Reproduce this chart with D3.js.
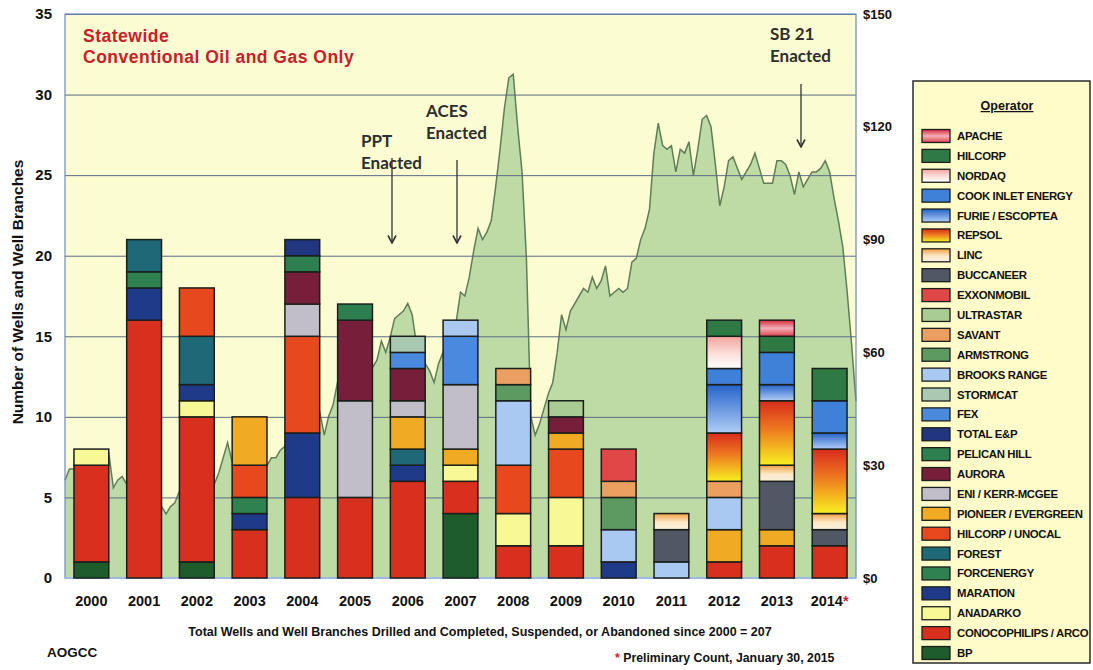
<!DOCTYPE html>
<html>
<head>
<meta charset="utf-8">
<script src="https://cdn.jsdelivr.net/npm/d3@7"></script>
<style>
  body { margin: 0; background: #fff; }
  svg text { font-family: "Liberation Sans", Arial, sans-serif; font-weight: bold; }
</style>
</head>
<body>
<svg id="chart" width="1093" height="670"></svg>
<script>
// years on the x axis
const years = ["2000", "2001", "2002", "2003", "2004", "2005", "2006", "2007", "2008", "2009", "2010", "2011", "2012", "2013", "2014"];

// operators, in legend order (top to bottom)
const operators = ["APACHE", "HILCORP", "NORDAQ", "COOK INLET ENERGY", "FURIE / ESCOPTEA", "REPSOL", "LINC", "BUCCANEER", "EXXONMOBIL", "ULTRASTAR", "SAVANT", "ARMSTRONG", "BROOKS RANGE", "STORMCAT", "FEX", "TOTAL E&P", "PELICAN HILL", "AURORA", "ENI / KERR-MCGEE", "PIONEER / EVERGREEN", "HILCORP / UNOCAL", "FOREST", "FORCENERGY", "MARATION", "ANADARKO", "CONOCOPHILIPS / ARCO", "BP"];

// wells and well branches per year and operator
const wellsByYear = [
  { year: "2000", "BP": 1, "CONOCOPHILIPS / ARCO": 6, "ANADARKO": 1 },
  { year: "2001", "CONOCOPHILIPS / ARCO": 16, "MARATION": 2, "FORCENERGY": 1, "FOREST": 2 },
  { year: "2002", "BP": 1, "CONOCOPHILIPS / ARCO": 9, "ANADARKO": 1, "MARATION": 1, "FOREST": 3, "HILCORP / UNOCAL": 3 },
  { year: "2003", "CONOCOPHILIPS / ARCO": 3, "MARATION": 1, "FORCENERGY": 1, "HILCORP / UNOCAL": 2, "PIONEER / EVERGREEN": 3 },
  { year: "2004", "CONOCOPHILIPS / ARCO": 5, "MARATION": 4, "HILCORP / UNOCAL": 6, "ENI / KERR-MCGEE": 2, "AURORA": 2, "PELICAN HILL": 1, "TOTAL E&P": 1 },
  { year: "2005", "CONOCOPHILIPS / ARCO": 5, "ENI / KERR-MCGEE": 6, "AURORA": 5, "PELICAN HILL": 1 },
  { year: "2006", "CONOCOPHILIPS / ARCO": 6, "MARATION": 1, "FOREST": 1, "PIONEER / EVERGREEN": 2, "ENI / KERR-MCGEE": 1, "AURORA": 2, "FEX": 1, "STORMCAT": 1 },
  { year: "2007", "BP": 4, "CONOCOPHILIPS / ARCO": 2, "ANADARKO": 1, "PIONEER / EVERGREEN": 1, "ENI / KERR-MCGEE": 4, "FEX": 3, "BROOKS RANGE": 1 },
  { year: "2008", "CONOCOPHILIPS / ARCO": 2, "ANADARKO": 2, "HILCORP / UNOCAL": 3, "BROOKS RANGE": 4, "ARMSTRONG": 1, "SAVANT": 1 },
  { year: "2009", "CONOCOPHILIPS / ARCO": 2, "ANADARKO": 3, "HILCORP / UNOCAL": 3, "PIONEER / EVERGREEN": 1, "AURORA": 1, "ULTRASTAR": 1 },
  { year: "2010", "MARATION": 1, "BROOKS RANGE": 2, "ARMSTRONG": 2, "SAVANT": 1, "EXXONMOBIL": 2 },
  { year: "2011", "BROOKS RANGE": 1, "BUCCANEER": 2, "LINC": 1 },
  { year: "2012", "CONOCOPHILIPS / ARCO": 1, "PIONEER / EVERGREEN": 2, "BROOKS RANGE": 2, "SAVANT": 1, "REPSOL": 3, "FURIE / ESCOPTEA": 3, "COOK INLET ENERGY": 1, "NORDAQ": 2, "HILCORP": 1 },
  { year: "2013", "CONOCOPHILIPS / ARCO": 2, "PIONEER / EVERGREEN": 1, "BUCCANEER": 3, "LINC": 1, "REPSOL": 4, "FURIE / ESCOPTEA": 1, "COOK INLET ENERGY": 2, "HILCORP": 1, "APACHE": 1 },
  { year: "2014", "CONOCOPHILIPS / ARCO": 2, "BUCCANEER": 1, "LINC": 1, "REPSOL": 4, "FURIE / ESCOPTEA": 1, "COOK INLET ENERGY": 2, "HILCORP": 2 }
];

// monthly oil price ($/bbl), Jan 2000 .. Jan 2015
const oilPrice = [
  26, 29, 29, 25, 28, 30, 29, 30, 33, 32, 33, 24,        // 2000
  26, 27, 25, 25, 27, 26, 24, 25, 25, 21, 19, 17,        // 2001
  19, 20, 23, 25, 26, 25, 26, 27, 28, 27, 25, 28,        // 2002
  32, 36, 31, 27, 26, 28, 29, 29, 27, 29, 30, 32,        // 2003
  32, 34, 35, 35, 38, 36, 39, 43, 44, 49, 44, 38,        // 2004
  43, 46, 52, 51, 48, 54, 57, 63, 64, 59, 56, 58,        // 2005
  63, 60, 64, 69, 70, 71, 73, 70, 62, 55, 57, 55,        // 2006
  52, 57, 60, 64, 65, 68, 76, 75, 80, 87, 93, 90,        // 2007
  92, 95, 104, 114, 125, 133, 134, 120, 108, 85, 43, 38, // 2008
  41, 45, 49, 52, 60, 70, 66, 71, 73, 75, 77, 76,        // 2009
  80, 77, 79, 83, 75, 76, 77, 76, 77, 84, 85, 90,        // 2010
  93, 98, 113, 121, 115, 114, 115, 108, 114, 113, 116, 107, // 2011
  114, 122, 123, 120, 110, 99, 104, 111, 112, 109, 106, 108, // 2012
  110, 113, 109, 105, 105, 105, 111, 111, 110, 107, 102, 108, // 2013
  104, 106, 108, 108, 109, 111, 108, 101, 95, 88, 76, 62, // 2014
  47                                                      // Jan 2015
];

const leftTicks = [0, 5, 10, 15, 20, 25, 30, 35];
const rightTicks = [0, 30, 60, 90, 120, 150];

// colours
const solid = {
  "HILCORP": "#2f7a44", "COOK INLET ENERGY": "#3f80d8", "BUCCANEER": "#505866",
  "EXXONMOBIL": "#e04848", "ULTRASTAR": "#a9cc92", "SAVANT": "#eba062", "ARMSTRONG": "#5d9a62",
  "BROOKS RANGE": "#a9c8f2", "STORMCAT": "#a9c9b3", "FEX": "#4a8ade", "TOTAL E&P": "#22357f",
  "PELICAN HILL": "#2e7f4f", "AURORA": "#761e3a", "ENI / KERR-MCGEE": "#c1bdc9",
  "PIONEER / EVERGREEN": "#f0aa24", "HILCORP / UNOCAL": "#e8481e", "FOREST": "#1e6878",
  "FORCENERGY": "#2f8150", "MARATION": "#1f3a88", "ANADARKO": "#f8f894",
  "CONOCOPHILIPS / ARCO": "#d8301f", "BP": "#1e5c2c"
};
const gradients = {
  "APACHE": [["0%", "#d8283c"], ["50%", "#f3b0b8"], ["100%", "#e0404c"]],
  "NORDAQ": [["0%", "#f2a49c"], ["55%", "#fbe0dc"], ["100%", "#ffffff"]],
  "FURIE / ESCOPTEA": [["0%", "#2563c8"], ["100%", "#b0cdf6"]],
  "REPSOL": [["0%", "#d82c1c"], ["45%", "#ee7a20"], ["100%", "#f8f020"]],
  "LINC": [["0%", "#f0a040"], ["55%", "#fde8c8"], ["100%", "#f8f0e0"]]
};
const fillOf = op => gradients[op] ? "url(#g" + operators.indexOf(op) + ")" : solid[op];

const svg = d3.select("#chart");
const defs = svg.append("defs");
Object.keys(gradients).forEach(op => {
  const g = defs.append("linearGradient")
    .attr("id", "g" + operators.indexOf(op))
    .attr("x1", 0).attr("y1", 0).attr("x2", 0).attr("y2", 1);
  gradients[op].forEach(s => g.append("stop").attr("offset", s[0]).attr("stop-color", s[1]));
});
// arrow head (drawn along +x, rotated to the line direction)
defs.append("marker")
  .attr("id", "arrow").attr("viewBox", "0 0 10 10").attr("refX", 9.5).attr("refY", 5)
  .attr("markerWidth", 10).attr("markerHeight", 10).attr("orient", "auto")
  .attr("markerUnits", "userSpaceOnUse")
  .append("path").attr("d", "M2,1 L9.5,5 L2,9").attr("fill", "none")
  .attr("stroke", "#333").attr("stroke-width", 1.6);

const plotL = 65, plotR = 856, plotT = 14, plotB = 578;

const x = d3.scaleBand().domain(years).range([plotL, plotR]).paddingInner(0.34).paddingOuter(0.17);
const xTime = d3.scaleLinear().domain([2000, 2015]).range([plotL, plotR]);
const y = d3.scaleLinear().domain([0, 35]).range([plotB, plotT]);
const yPrice = d3.scaleLinear().domain([0, 150]).range([plotB, plotT]);

// plot background
svg.append("rect")
  .attr("x", plotL).attr("y", plotT).attr("width", plotR - plotL).attr("height", plotB - plotT)
  .attr("fill", "#fcfcd2");

// oil price area
const area = d3.area()
  .x((d, i) => xTime(2000 + i / 12))
  .y0(yPrice(0))
  .y1(d => yPrice(d));
const line = d3.line()
  .x((d, i) => xTime(2000 + i / 12))
  .y(d => yPrice(d));

svg.append("path").datum(oilPrice).attr("d", area).attr("fill", "#bedba6");
svg.append("path").datum(oilPrice).attr("d", line)
  .attr("fill", "none").attr("stroke", "#5f7e56").attr("stroke-width", 1.5);

// grid lines
svg.append("g")
  .attr("transform", `translate(${plotL},0)`)
  .call(d3.axisLeft(y).tickValues(leftTicks.slice(1)).tickSize(-(plotR - plotL)).tickFormat(""))
  .call(g => g.select(".domain").remove())
  .call(g => g.selectAll("line").attr("stroke", "#5a6c84").attr("stroke-width", 1));

// frame
svg.append("rect")
  .attr("x", plotL).attr("y", plotT).attr("width", plotR - plotL).attr("height", plotB - plotT)
  .attr("fill", "none").attr("stroke", "#6f8bbd").attr("stroke-width", 1.2);
svg.append("line")
  .attr("x1", plotL).attr("x2", plotR).attr("y1", plotB).attr("y2", plotB)
  .attr("stroke", "#9fb8e4").attr("stroke-width", 2);

// stacked bars
const stackKeys = operators.slice().reverse();
const series = d3.stack().keys(stackKeys).value((d, key) => d[key] || 0)(wellsByYear);

svg.append("g").selectAll("g")
  .data(series)
  .enter()
  .append("g")
    .attr("fill", d => fillOf(d.key))
  .selectAll("rect")
  .data(d => d.filter(s => s[1] > s[0]))
  .enter()
  .append("rect")
    .attr("x", d => x(d.data.year))
    .attr("y", d => y(d[1]))
    .attr("width", x.bandwidth())
    .attr("height", d => y(d[0]) - y(d[1]))
    .attr("stroke", "#1b1f1b")
    .attr("stroke-width", 1.5);

// left axis
svg.append("g")
  .attr("transform", `translate(${plotL - 13},0)`)
  .call(d3.axisLeft(y).tickValues(leftTicks).tickSize(0).tickPadding(0))
  .call(g => g.select(".domain").remove())
  .call(g => g.selectAll("text").attr("font-size", 15).attr("fill", "#111")
    .style("font-family", "'Liberation Sans', Arial, sans-serif"));

// right axis
svg.append("g")
  .attr("transform", `translate(${plotR + 7},0)`)
  .call(d3.axisRight(yPrice).tickValues(rightTicks).tickSize(0).tickPadding(0).tickFormat(d => "$" + d))
  .call(g => g.select(".domain").remove())
  .call(g => g.selectAll("text").attr("font-size", 13).attr("fill", "#111")
    .style("font-family", "'Liberation Sans', Arial, sans-serif"));

// bottom axis
svg.append("g")
  .attr("transform", `translate(0,${plotB + 18})`)
  .call(d3.axisBottom(x).tickSize(0).tickPadding(0))
  .call(g => g.select(".domain").remove())
  .call(g => g.selectAll("text").attr("font-size", 14.5).attr("fill", "#111")
    .style("font-family", "'Liberation Sans', Arial, sans-serif")
    .filter(d => d === "2014")
    .append("tspan").attr("fill", "#d8202a").text("*"));

// y title
svg.append("text")
  .attr("transform", "translate(23,292) rotate(-90)")
  .attr("text-anchor", "middle").attr("font-size", 15.5).attr("fill", "#111")
  .text("Number of Wells and Well Branches");

// chart title
const title = svg.append("text").attr("x", 83).attr("font-size", 17.5).attr("fill", "#c8202a")
  .attr("letter-spacing", 0.5);
title.append("tspan").attr("x", 83).attr("y", 42).text("Statewide");
title.append("tspan").attr("x", 83).attr("y", 63).text("Conventional Oil and Gas Only");

// tax law annotations
const notes = [
  { label: ["PPT", "Enacted"], tx: 361, ty: 147, ax: 392, a0: 158, a1: 243 },
  { label: ["ACES", "Enacted"], tx: 426, ty: 117, ax: 457, a0: 160, a1: 243 },
  { label: ["SB 21", "Enacted"], tx: 770, ty: 40, ax: 801, a0: 84, a1: 147 }
];
notes.forEach(n => {
  const t = svg.append("text").attr("fill", "#2e2e2e").attr("font-size", 17)
    .style("font-family", "Lato, 'Open Sans', sans-serif");
  t.append("tspan").attr("x", n.tx).attr("y", n.ty).text(n.label[0]);
  t.append("tspan").attr("x", n.tx).attr("y", n.ty + 22).text(n.label[1]);
  svg.append("line")
    .attr("x1", n.ax).attr("x2", n.ax).attr("y1", n.a0).attr("y2", n.a1)
    .attr("stroke", "#333").attr("stroke-width", 1.3).attr("marker-end", "url(#arrow)");
});

// footer text
svg.append("text").attr("x", 480).attr("y", 636).attr("text-anchor", "middle")
  .attr("font-size", 12.5).attr("fill", "#111")
  .text("Total Wells and Well Branches Drilled and  Completed, Suspended, or Abandoned since 2000 = 207");
svg.append("text").attr("x", 47).attr("y", 657).attr("font-size", 13.5).attr("fill", "#111").text("AOGCC");
const pre = svg.append("text").attr("x", 615).attr("y", 662).attr("font-size", 12.3).attr("fill", "#111");
pre.append("tspan").attr("fill", "#d8202a").text("* ");
pre.append("tspan").text("Preliminary  Count, January 30, 2015");

// legend
const legend = svg.append("g");
legend.append("rect")
  .attr("x", 913).attr("y", 81).attr("width", 177).attr("height", 582)
  .attr("fill", "#fffcca").attr("stroke", "#2a2a2a").attr("stroke-width", 1.5);
legend.append("text")
  .attr("x", 1007).attr("y", 110).attr("text-anchor", "middle")
  .attr("font-size", 12.5).attr("fill", "#111").attr("text-decoration", "underline")
  .text("Operator");

const ly = d3.scalePoint().domain(operators).range([136, 653]);
const item = legend.selectAll("g.item")
  .data(operators)
  .enter()
  .append("g")
    .attr("class", "item")
    .attr("transform", d => `translate(0,${ly(d)})`);
item.append("rect")
  .attr("x", 922).attr("y", -6.5).attr("width", 28).attr("height", 13)
  .attr("fill", d => fillOf(d)).attr("stroke", "#1b1f1b").attr("stroke-width", 1.3);
item.append("text")
  .attr("x", 957).attr("y", 4).attr("font-size", 11.4).attr("fill", "#111")
  .attr("letter-spacing", -0.35)
  .text(d => d);
</script>
</body>
</html>
